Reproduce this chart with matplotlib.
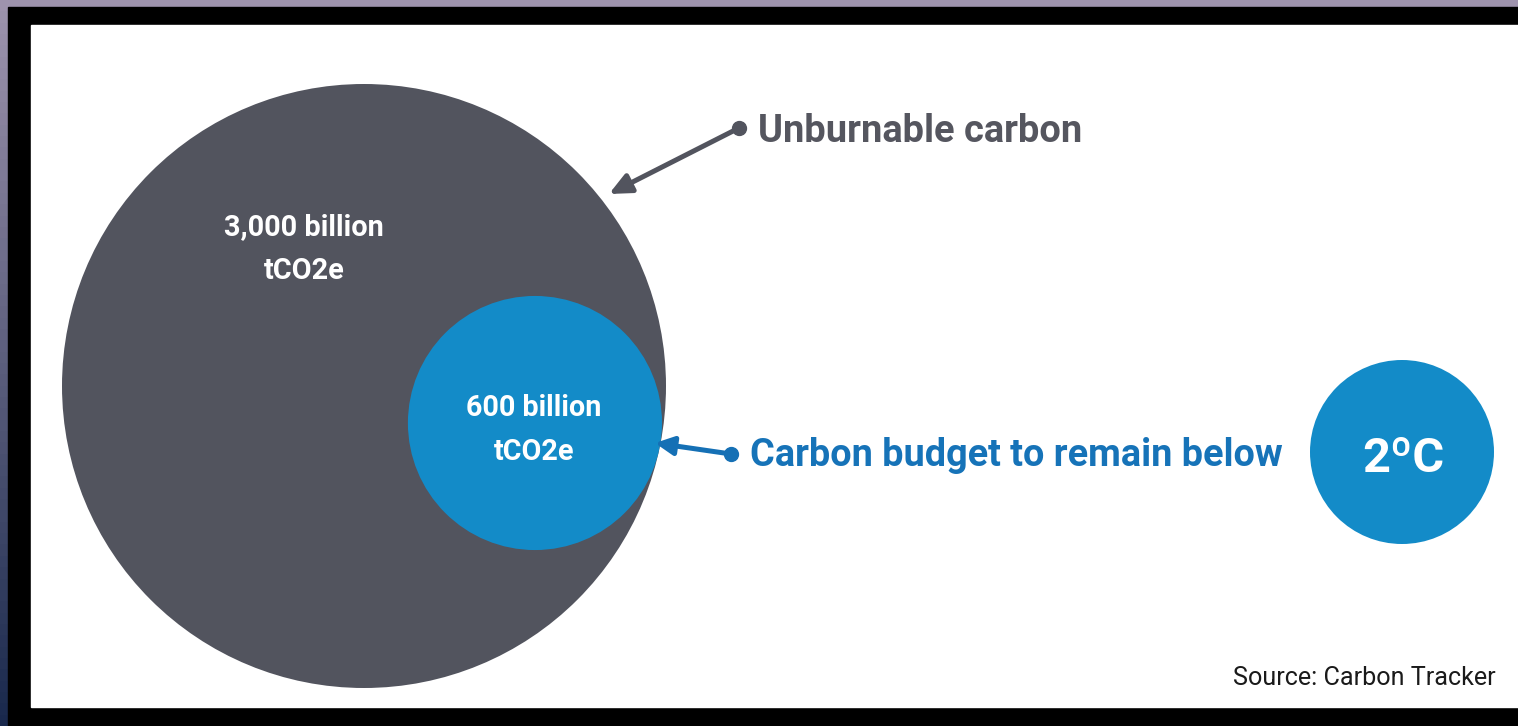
import numpy as np
import matplotlib
matplotlib.use("Agg")
import matplotlib.pyplot as plt
from matplotlib.patches import Circle, Rectangle

# ---- data ----
labels = ["3,000 billion\ntCO2e", "600 billion\ntCO2e"]
values = [3000, 600]            # billion tCO2e
callouts = ["Unburnable carbon", "Carbon budget to remain below"]
threshold_label = "2ºC"
source = "Source: Carbon Tracker"

GRAY = "#52545e"
BLUE = "#138bc8"
BLUE_TXT = "#1673b8"
GRAY_TXT = "#55565f"

W, H = 1518, 726
fig = plt.figure(figsize=(W / 100, H / 100), dpi=100)
ax = fig.add_axes([0, 0, 1, 1])
ax.set_xlim(0, W)
ax.set_ylim(H, 0)
ax.axis("off")

# background photo edge (gradient), black frame, white panel
grad = np.zeros((64, 64, 3))
t = np.linspace(0, 1, 64)[:, None]
top = np.array([0.62, 0.58, 0.68])
bot = np.array([0.10, 0.16, 0.30])
grad[:] = (top * (1 - t) + bot * t)[:, None, :]
ax.imshow(grad, extent=(0, W, H, 0), aspect="auto", zorder=0)
ax.add_patch(Rectangle((8, 7), W - 8, H - 7, color="black", zorder=1))
ax.add_patch(Rectangle((31, 25), W - 31, 707 - 25, color="white", zorder=2))

# circle radius scale: r = k * value ** p
p = 0.538
k = 302 / values[0] ** p
r_big = k * values[0] ** p
r_small = k * values[1] ** p
cx_big, cy_big = 364, 386
cx_small, cy_small = 662 - r_small, 423

ax.add_patch(Circle((cx_big, cy_big), r_big, color=GRAY, zorder=3, lw=0))
ax.add_patch(Circle((cx_small, cy_small), r_small, color=BLUE, zorder=4, lw=0))
ax.add_patch(Circle((1402, 452), 92, color=BLUE, zorder=4, lw=0))

fam = "Roboto"

def fit_text(x, y, s, width, size, **kw):
    t = ax.text(x, y, s, fontsize=size, family=fam, fontweight="bold", **kw)
    fig.canvas.draw()
    bb = t.get_window_extent()
    t.set_fontsize(size * width / bb.width)
    return t

fit_text(304, 249, labels[0], 160, 18, color="white", ha="center", va="center",
         linespacing=1.75, zorder=5)
fit_text(534, 430, labels[1], 136, 18, color="white", ha="center", va="center",
         linespacing=1.75, zorder=5)
fit_text(758, 131, callouts[0], 325, 24, color=GRAY_TXT, ha="left", va="center", zorder=5)
fit_text(750, 455, callouts[1], 534, 24, color=BLUE_TXT, ha="left", va="center", zorder=5)
fit_text(1403, 459, threshold_label, 82, 30, color="white", ha="center", va="center", zorder=5)
t = ax.text(1496, 678, source, fontsize=14, family=fam, color="#1a1a1a",
            ha="right", va="center", zorder=5)
fig.canvas.draw()
t.set_fontsize(14 * 263 / t.get_window_extent().width)

# arrows
ax.annotate("", xy=(609, 194), xytext=(739, 128), zorder=6,
            arrowprops=dict(arrowstyle="-|>,head_length=1.3,head_width=0.6",
                            color=GRAY, lw=3.6, shrinkA=0, shrinkB=0))
ax.plot([739], [128], "o", color=GRAY, ms=10, zorder=6)
ax.annotate("", xy=(655, 443), xytext=(731, 454), zorder=6,
            arrowprops=dict(arrowstyle="-|>,head_length=1.1,head_width=0.55",
                            color="#1570b5", lw=3.6, shrinkA=0, shrinkB=0))
ax.plot([731], [454], "o", color="#1570b5", ms=10, zorder=6)

fig.savefig("out.png", dpi=100)
